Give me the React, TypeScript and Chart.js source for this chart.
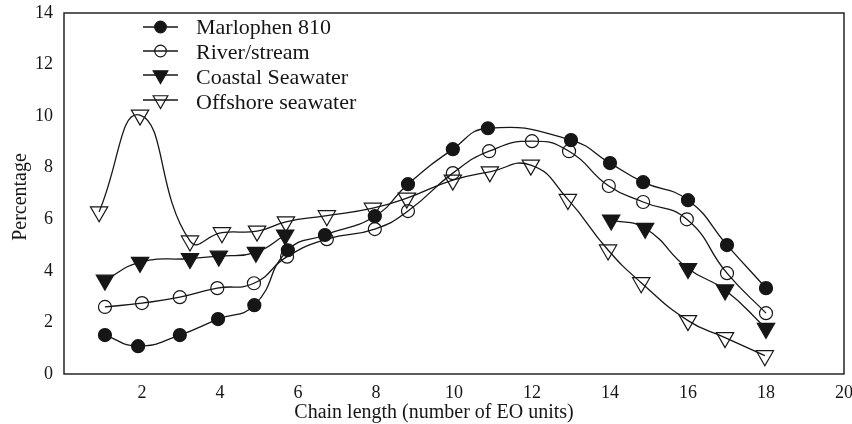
import React, { useEffect, useRef } from "react";
import { Chart, registerables } from "chart.js";

Chart.register(...registerables);

// ---- data ----
const seriesNames = ["Marlophen 810", "River/stream", "Coastal Seawater", "Offshore seawater"];

const marlophenX = [1.05, 1.9, 2.97, 3.95, 4.88, 5.74, 6.69, 7.97, 8.82, 9.97, 10.87, 13.0, 14.0, 14.85, 16.0, 17.0, 18.0];
const marlophenY = [1.51, 1.08, 1.51, 2.13, 2.67, 4.8, 5.39, 6.12, 7.36, 8.72, 9.53, 9.07, 8.18, 7.44, 6.74, 5.0, 3.33];

const riverX = [1.05, 2.0, 2.97, 3.93, 4.87, 5.72, 6.74, 7.97, 8.82, 9.97, 10.9, 12.0, 12.95, 13.97, 14.85, 15.97, 17.0, 18.0];
const riverY = [2.6, 2.75, 2.98, 3.33, 3.52, 4.55, 5.23, 5.62, 6.32, 7.79, 8.64, 9.03, 8.64, 7.29, 6.67, 6.0, 3.91, 2.36];

const coastalX = [1.05, 1.95, 3.23, 3.97, 4.92, 5.67, 10.0, 14.03, 14.9, 16.0, 16.95, 18.0];
const coastalY = [3.64, 4.33, 4.48, 4.57, 4.72, 5.39, null, 5.97, 5.65, 4.09, 3.26, 1.77];

const offshoreX = [0.9, 1.95, 3.23, 4.05, 4.95, 5.69, 6.74, 7.92, 8.79, 9.97, 10.92, 11.97, 12.92, 13.95, 14.8, 16.0, 16.95, 17.97];
const offshoreY = [6.29, 10.04, 5.16, 5.48, 5.54, 5.9, 6.14, 6.43, 6.82, 7.52, 7.84, 8.1, 6.77, 4.81, 3.54, 2.07, 1.41, 0.71];

const xTickValues = [2, 4, 6, 8, 10, 12, 14, 16, 18, 20];
const yTickValues = [0, 2, 4, 6, 8, 10, 12, 14];

const xTitle = "Chain length (number of EO units)";
const yTitle = "Percentage";

const INK = "#161616";
const FONT = "'Liberation Serif', 'Times New Roman', serif";

const toPoints = (xs: number[], ys: (number | null)[]) => xs.map((x, i) => ({ x, y: ys[i] }));

type Marker = { style: "circle" | "triangle"; filled: boolean };
const markers: Marker[] = [
  { style: "circle", filled: true },
  { style: "circle", filled: false },
  { style: "triangle", filled: true },
  { style: "triangle", filled: false },
];

function drawMarker(ctx: CanvasRenderingContext2D, m: Marker, x: number, y: number, r: number) {
  ctx.beginPath();
  if (m.style === "circle") {
    ctx.arc(x, y, r, 0, Math.PI * 2);
  } else {
    ctx.moveTo(x, y + r);
    ctx.lineTo(x - (Math.sqrt(3) / 2) * r, y - r / 2);
    ctx.lineTo(x + (Math.sqrt(3) / 2) * r, y - r / 2);
    ctx.closePath();
  }
  if (m.filled) {
    ctx.fillStyle = INK;
    ctx.fill();
  }
  ctx.strokeStyle = INK;
  ctx.lineWidth = 1.2;
  ctx.stroke();
}

const framePlugin = {
  id: "frameAndLegend",
  afterDraw(chart: any) {
    const { ctx, chartArea } = chart;
    ctx.save();
    ctx.strokeStyle = INK;
    ctx.lineWidth = 1.4;
    ctx.strokeRect(chartArea.left, chartArea.top, chartArea.right - chartArea.left, chartArea.bottom - chartArea.top);

    // axis titles
    ctx.fillStyle = INK;
    ctx.font = `20px ${FONT}`;
    ctx.textAlign = "center";
    ctx.textBaseline = "middle";
    ctx.fillText(xTitle, 434, 413);
    ctx.save();
    ctx.translate(21, 197);
    ctx.rotate(-Math.PI / 2);
    ctx.fillText(yTitle, 0, 0);
    ctx.restore();

    // legend
    const rowsY = [27, 51, 75, 100];
    const textY = [28, 53, 78, 103];
    seriesNames.forEach((name, i) => {
      const m = markers[i];
      ctx.beginPath();
      ctx.moveTo(143, rowsY[i]);
      ctx.lineTo(178, rowsY[i]);
      ctx.strokeStyle = INK;
      ctx.lineWidth = 1.3;
      ctx.stroke();
      drawMarker(ctx, m, 160.5, rowsY[i], m.style === "circle" ? 5.8 : 8.5);
      ctx.fillStyle = INK;
      ctx.font = `22px ${FONT}`;
      ctx.textAlign = "left";
      ctx.textBaseline = "middle";
      ctx.fillText(name, 196, textY[i]);
    });
    ctx.restore();
  },
};

export default function App() {
  const ref = useRef<HTMLCanvasElement | null>(null);

  useEffect(() => {
    if (!ref.current) return;
    const common = {
      borderColor: INK,
      borderWidth: 1.3,
      tension: 0.5,
      fill: false,
      spanGaps: false,
      pointBorderColor: INK,
      pointBorderWidth: 1.2,
    };
    const chart = new Chart(ref.current, {
      type: "line",
      data: {
        datasets: [
          {
            ...common,
            label: seriesNames[0],
            data: toPoints(marlophenX, marlophenY),
            pointStyle: "circle",
            pointRadius: 6.5,
            pointBackgroundColor: INK,
          },
          {
            ...common,
            label: seriesNames[1],
            data: toPoints(riverX, riverY),
            pointStyle: "circle",
            pointRadius: 6.5,
            pointBackgroundColor: "rgba(0,0,0,0)",
          },
          {
            ...common,
            label: seriesNames[2],
            data: toPoints(coastalX, coastalY),
            pointStyle: "triangle",
            pointRotation: 180,
            pointRadius: 10,
            pointBackgroundColor: INK,
          },
          {
            ...common,
            label: seriesNames[3],
            data: toPoints(offshoreX, offshoreY),
            pointStyle: "triangle",
            pointRotation: 180,
            pointRadius: 10,
            pointBackgroundColor: "rgba(0,0,0,0)",
          },
        ] as any,
      },
      options: {
        animation: false,
        responsive: true,
        maintainAspectRatio: false,
        layout: { autoPadding: false, padding: { top: 13, right: 8, left: 0, bottom: 0 } },
        plugins: {
          legend: { display: false },
          tooltip: { enabled: false },
        },
        scales: {
          x: {
            type: "linear",
            min: 0,
            max: 20,
            afterFit: (s: any) => {
              s.height = 50;
              s.paddingLeft = 0;
              s.paddingRight = 0;
              s.paddingTop = 0;
              s.paddingBottom = 0;
            },
            afterBuildTicks: (s: any) => {
              s.ticks = xTickValues.map((v) => ({ value: v }));
            },
            grid: { display: false, drawTicks: false },
            border: { display: false },
            ticks: {
              color: INK,
              padding: 8,
              font: { family: FONT, size: 18 },
              callback: (v: any) => String(v),
            },
            title: { display: false, text: xTitle },
          },
          y: {
            type: "linear",
            min: 0,
            max: 14,
            afterFit: (s: any) => {
              s.width = 64;
              s.paddingLeft = 0;
              s.paddingRight = 0;
              s.paddingTop = 0;
              s.paddingBottom = 0;
            },
            afterBuildTicks: (s: any) => {
              s.ticks = yTickValues.map((v) => ({ value: v }));
            },
            grid: { display: false, drawTicks: false },
            border: { display: false },
            ticks: {
              color: INK,
              padding: 11,
              font: { family: FONT, size: 18 },
              callback: (v: any) => String(v),
            },
            title: { display: false, text: yTitle },
          },
        },
      } as any,
      plugins: [framePlugin],
    });
    return () => chart.destroy();
  }, []);

  return (
    <div style={{ position: "absolute", left: 0, top: 0, width: 852, height: 424, background: "#fff" }}>
      <canvas ref={ref} />
    </div>
  );
}
